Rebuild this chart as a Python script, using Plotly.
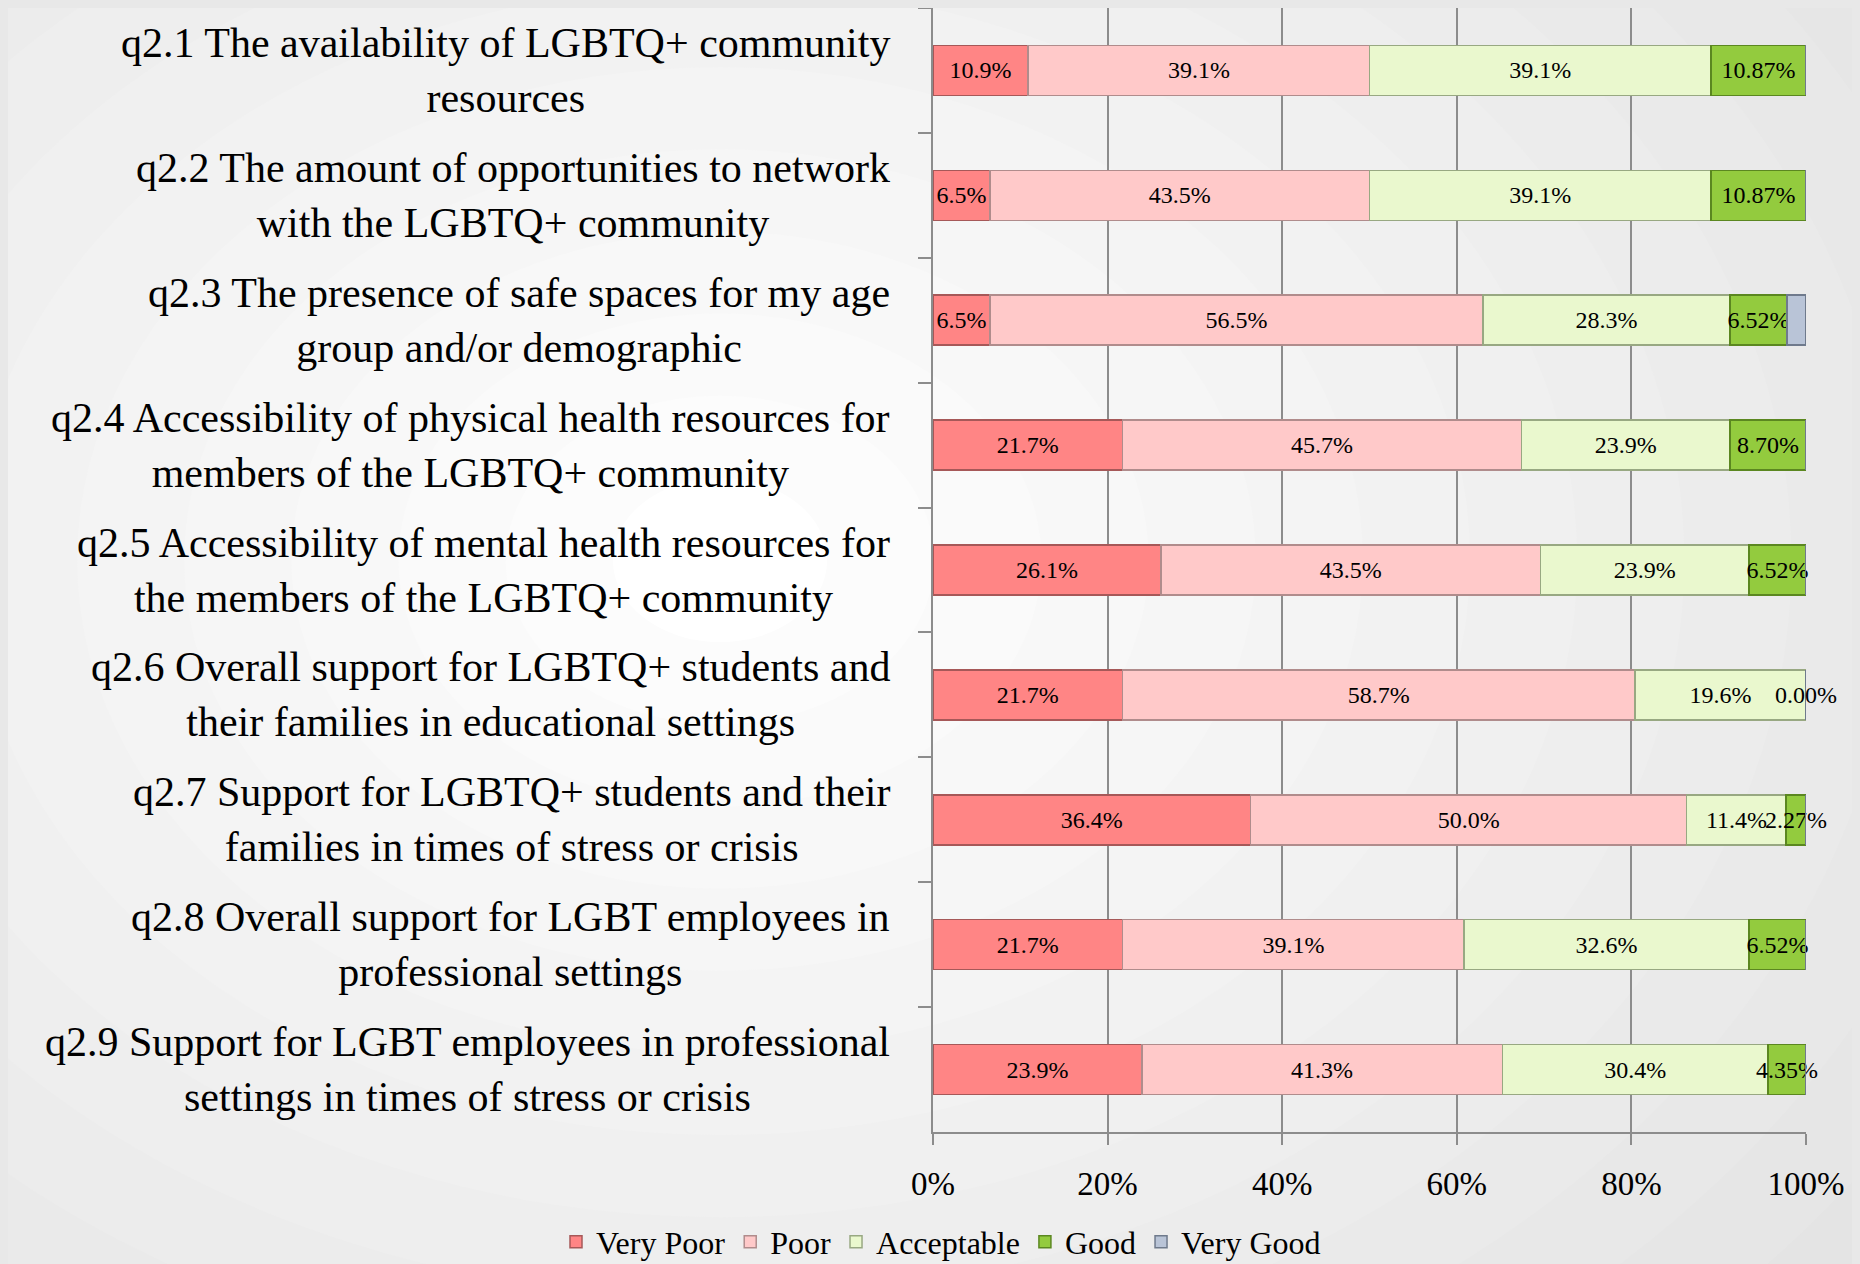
import plotly.graph_objects as go

# ---------------- data ----------------
categories = ["q2.1", "q2.2", "q2.3", "q2.4", "q2.5", "q2.6", "q2.7", "q2.8", "q2.9"]
category_labels = [
    "q2.1 The availability of LGBTQ+ community<br>resources",
    "q2.2 The amount of opportunities to network<br>with the LGBTQ+ community",
    "q2.3 The presence of safe spaces for my age<br>group and/or demographic",
    "q2.4 Accessibility of physical health resources for<br>members of the LGBTQ+ community",
    "q2.5 Accessibility of mental health resources for<br>the members of the LGBTQ+ community",
    "q2.6 Overall support for LGBTQ+ students and<br>their families in educational settings",
    "q2.7 Support for LGBTQ+ students and their<br>families in times of stress or crisis",
    "q2.8 Overall support for LGBT employees in<br>professional settings",
    "q2.9 Support for LGBT employees in professional<br>settings in times of stress or crisis",
]
very_poor = [10.9, 6.5, 6.5, 21.7, 26.1, 21.7, 36.4, 21.7, 23.9]
poor = [39.1, 43.5, 56.5, 45.7, 43.5, 58.7, 50.0, 39.1, 41.3]
acceptable = [39.1, 39.1, 28.3, 23.9, 23.9, 19.6, 11.4, 32.6, 30.4]
good = [10.87, 10.87, 6.52, 8.70, 6.52, 0.00, 2.27, 6.52, 4.35]
very_good = [0.0, 0.0, 2.17, 0.0, 0.0, 0.0, 0.0, 0.0, 0.0]
tick_values = [0, 20, 40, 60, 80, 100]
tick_labels = ["0%", "20%", "40%", "60%", "80%", "100%"]

series = [
    ("Very Poor", very_poor, "#FF8585", "#A65858", "{:.1f}%"),
    ("Poor", poor, "#FFC9C9", "#B08C8C", "{:.1f}%"),
    ("Acceptable", acceptable, "#EAF8CE", "#98A882", "{:.1f}%"),
    ("Good", good, "#93CB3E", "#5B8720", "{:.2f}%"),
    ("Very Good", very_good, "#B9C4D7", "#6F7A8C", None),
]

FONT = "Liberation Serif"
OFF = 8  # page body margin
W, H = 1860 - OFF, 1264 - OFF
L, R, T, B = 933 - OFF, 54, 0, 132

fig = go.Figure()

# background radial-ish gradient via concentric ellipses (paper coords)
pw, ph = W - L - R, H - T - B
def px2x(px):
    return (px - OFF - L) / pw
def py2y(py):
    return (H - B - (py - OFF)) / ph

cx, cy = 720, 560
steps = 14
shapes = []
for i in range(steps):
    f = 1 - i / steps
    rx, ry = 1500 * f, 1150 * f
    g = int(226 + (255 - 226) * (i + 1) / steps)
    shapes.append(dict(type="circle", xref="paper", yref="paper",
                       x0=px2x(cx - rx), x1=px2x(cx + rx),
                       y0=py2y(cy + ry), y1=py2y(cy - ry),
                       fillcolor=f"rgb({g},{g},{g})", line=dict(width=0),
                       layer="below"))

for name, vals, color, edge, fmt in series:
    txt = [fmt.format(v) for v in vals] if fmt else None
    fig.add_trace(go.Bar(
        y=categories, x=vals, name=name, orientation="h",
        marker=dict(color=color, line=dict(color=edge, width=1.5)),
        text=txt,
        textposition="inside" if fmt else "none",
        insidetextanchor="middle",
        constraintext="none",
        textangle=0,
        cliponaxis=False,
        textfont=dict(family=FONT, size=24, color="black"),
        hoverinfo="skip",
    ))

annotations = []
for cat, lab in zip(categories, category_labels):
    annotations.append(dict(x=-0.047, xref="paper", y=cat, yref="y",
                            text=lab, showarrow=False, xanchor="right",
                            yanchor="middle", align="center",
                            font=dict(family=FONT, size=42, color="black")))

# zero-valued "Good" labels (Excel still prints them at the stack position)
for i, cat in enumerate(categories):
    if good[i] == 0:
        total = very_poor[i] + poor[i] + acceptable[i] + good[i] + very_good[i]
        pos = (very_poor[i] + poor[i] + acceptable[i]) / total * 100
        annotations.append(dict(x=pos, xref="x", y=cat, yref="y",
                                text="{:.2f}%".format(good[i]), showarrow=False,
                                xanchor="center", yanchor="middle",
                                font=dict(family=FONT, size=24, color="black")))

fig.update_layout(
    width=W, height=H,
    barmode="stack", barnorm="percent", bargap=0.6,
    margin=dict(l=L, r=R, t=T, b=B, pad=0),
    paper_bgcolor="rgb(228,228,228)",
    plot_bgcolor="rgba(0,0,0,0)",
    shapes=shapes,
    annotations=annotations,
    font=dict(family=FONT, color="black"),
    legend=dict(orientation="h", xref="container", yref="container",
                x=(941 - OFF) / W, y=(1264 - 1242) / H, xanchor="center", yanchor="middle",
                font=dict(family=FONT, size=32, color="black"),
                bgcolor="rgba(0,0,0,0)", itemwidth=30, traceorder="normal",
                tracegroupgap=0),
    xaxis=dict(range=[0, 100], tickvals=tick_values, ticktext=tick_labels,
               showgrid=True, gridcolor="#8C8C8C", gridwidth=1.5,
               showline=True, linecolor="#8C8C8C", linewidth=2,
               ticks="outside", ticklen=11, tickcolor="#8C8C8C", tickwidth=2,
               tickfont=dict(family=FONT, size=33, color="black"),
               ticklabelstandoff=10, zeroline=False),
    yaxis=dict(autorange="reversed", showticklabels=False,
               showline=True, linecolor="#8C8C8C", linewidth=2,
               ticks="outside", ticklen=13, tickcolor="#8C8C8C", tickwidth=2,
               tickson="boundaries", showgrid=False),
)

fig.write_html("out.html",
               post_script="document.body.style.background='rgb(232,232,232)';")
